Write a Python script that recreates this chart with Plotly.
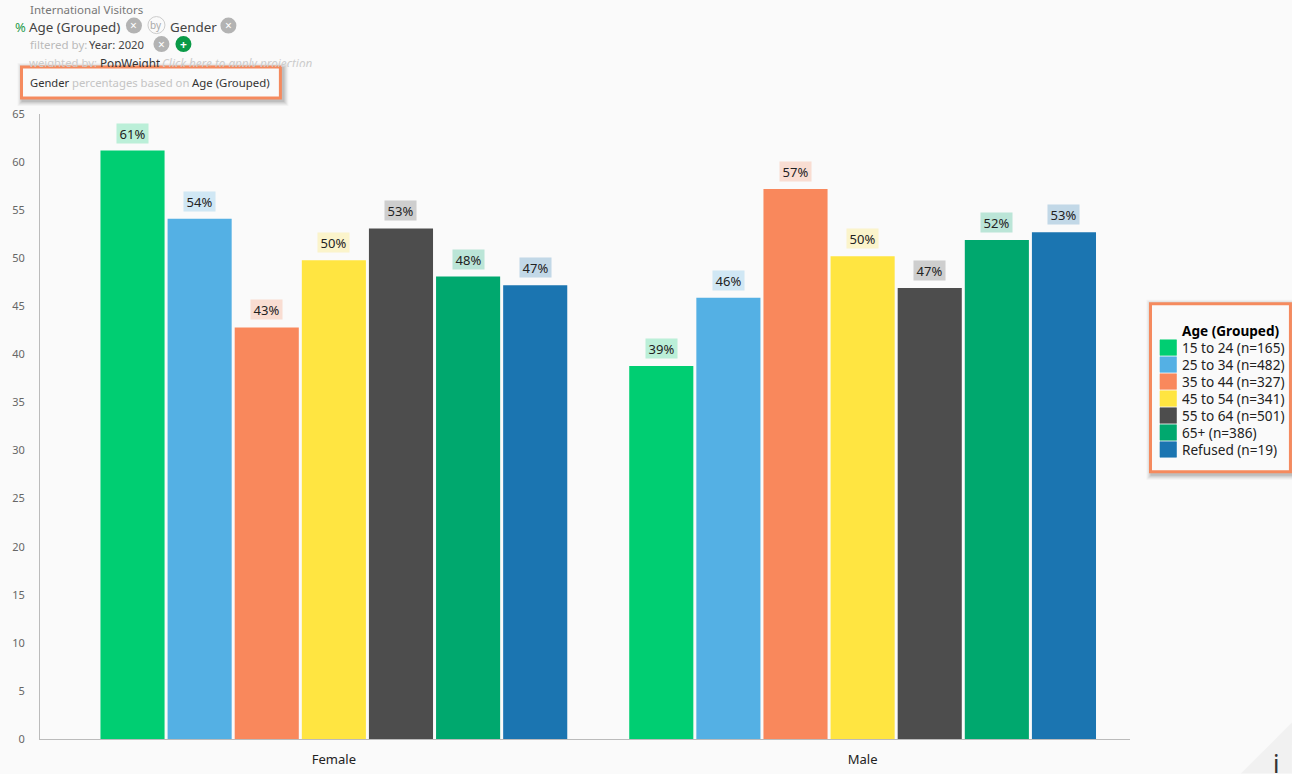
import plotly.graph_objects as go

# Survey results: share of each age group by gender
genders = ["Female", "Male"]
age_groups = ["15 to 24", "25 to 34", "35 to 44", "45 to 54", "55 to 64", "65+", "Refused"]
sample_sizes = [165, 482, 327, 341, 501, 386, 19]
female_pct = [61.2, 54.1, 42.8, 49.8, 53.1, 48.1, 47.2]
male_pct = [38.8, 45.9, 57.2, 50.2, 46.9, 51.9, 52.7]
series_colors = ["#00CE72", "#54B0E4", "#F9885C", "#FFE541", "#4D4D4D", "#00A86E", "#1B75B1"]
y_ticks = list(range(0, 70, 5))

W, H = 1292, 774
LEFT, RIGHT, TOP, BOTTOM = 39.5, 1130.0, 114.0, 739.5
BG = "#FAFAFA"
ORANGE = "#F58A5E"
FONT = "Noto Sans"
BAR_GAP = 0.1115
GROUP_GAP = 0.045


def px(x):
    return (x - LEFT) / (RIGHT - LEFT)


def py(y):
    return (BOTTOM - y) / (BOTTOM - TOP)


def rgba(hex_color, alpha):
    r, g, b = (int(hex_color[i:i + 2], 16) for i in (1, 3, 5))
    return f"rgba({r},{g},{b},{alpha})"


fig = go.Figure()
for j, (age, color) in enumerate(zip(age_groups, series_colors)):
    fig.add_bar(
        x=genders,
        y=[female_pct[j], male_pct[j]],
        name=age,
        marker=dict(color=color, line=dict(width=0)),
        showlegend=False,
    )

annotations = []
shapes = []


def label(x, y, text, size=12, color="#444444", **kw):
    anchor = kw.pop("xanchor", "left")
    nudge = 1.5 if anchor == "left" else 0
    annotations.append(dict(
        xref="paper", yref="paper", x=px(x - nudge), y=py(y), text=text, showarrow=False,
        xanchor=anchor, yanchor=kw.pop("yanchor", "middle"),
        borderpad=0, font=dict(family=FONT, size=size, color=color), **kw,
    ))


def rect(x0, y0, x1, y1, layer="above", **kw):
    shapes.append(dict(type="rect", xref="paper", yref="paper", layer=layer,
                       x0=px(x0), x1=px(x1), y0=py(y0), y1=py(y1), **kw))


def circle(cx, cy, r, **kw):
    shapes.append(dict(type="circle", xref="paper", yref="paper", layer="above",
                       x0=px(cx - r), x1=px(cx + r), y0=py(cy - r), y1=py(cy + r), **kw))


def framed_box(x0, y0, x1, y1):
    # Orange frame with a soft drop shadow built from stacked translucent layers
    for grow, alpha in ((6, 0.03), (5, 0.04), (4, 0.05), (3, 0.06), (2, 0.08)):
        rect(x0 - grow + 2, y0 - grow + 2, x1 + grow + 2, y1 + grow + 2,
             fillcolor=f"rgba(0,0,0,{alpha})", line=dict(width=0))
    rect(x0, y0, x1, y1, fillcolor=BG, line=dict(color=ORANGE, width=3))


# Value labels above every bar, tinted with the series colour
slot = (1 - BAR_GAP) / len(age_groups)
for i, values in enumerate((female_pct, male_pct)):
    for j, value in enumerate(values):
        annotations.append(dict(
            xref="x", yref="y", x=i + (j - (len(age_groups) - 1) / 2) * slot, y=value,
            yshift=7, yanchor="bottom", xanchor="center", showarrow=False,
            text=f"{value:.0f}%", width=31, height=19, borderpad=0,
            bgcolor=rgba(series_colors[j], 0.25),
            font=dict(family=FONT, size=13, color="#222222"),
        ))

# Query description block in the top-left corner
label(30, 9, "International Visitors", 11.5, "#777777")
label(15, 26.5, "%", 13, "#1E9A4B")
label(29, 26.5, "Age (Grouped)", 13.4, "#444444")
label(170, 26.5, "Gender", 13.4, "#444444")
circle(156, 25, 8.5, fillcolor="rgba(0,0,0,0)", line=dict(color="#CCCCCC", width=1))
label(156, 25, "by", 10, "#AAAAAA", xanchor="center")
for cx, cy in ((133.5, 25.5), (228, 25.5), (161, 44)):
    circle(cx, cy, 8, fillcolor="#B3B3B3", line=dict(width=0))
    label(cx, cy, "×", 12, "#FFFFFF", xanchor="center")
circle(183, 44, 8, fillcolor="#0A9A47", line=dict(width=0))
label(183, 44, "<b>+</b>", 12, "#FFFFFF", xanchor="center")
label(30, 44, "filtered by:", 11.5, "#BBBBBB")
label(89, 44, "Year: 2020", 11.3, "#444444")
for x, text, size, color in ((29, "weighted by:", 11.3, "#CCCCCC"), (100, "PopWeight", 11.7, "#333333"),
                             (162, "<i>Click here to apply projection</i>", 11.7, "#CCCCCC")):
    label(x, 54, text, size, color, yanchor="top", height=12, valign="top")

framed_box(21, 67, 280, 98)
label(30, 82, "Gender", 11.2, "#333333")
label(72, 82, "percentages based on", 11.3, "#C4C4C4")
label(192, 82, "Age (Grouped)", 11.4, "#333333")

# Legend panel: swatches and labels come from the series lists
framed_box(1150.5, 304, 1290.5, 472)
label(1183, 331, "<b>Age (Grouped)</b>", 13.6, "#000000")
for j, (age, n, color) in enumerate(zip(age_groups, sample_sizes, series_colors)):
    row_y = 348 + j * 17
    rect(1160, row_y - 8, 1176.5, row_y + 7.5, fillcolor=color,
         line=dict(color=rgba(color, 0.6), width=1))
    label(1183, row_y, f"{age} (n={n})", 13.6, "#222222")

# Info tab in the bottom-right corner
shapes.append(dict(
    type="path", xref="paper", yref="paper", layer="above", fillcolor="#F1F1F1", line=dict(width=0),
    path=f"M {px(1241)} {py(774)} L {px(1292)} {py(723)} L {px(1292)} {py(774)} Z",
))
label(1276, 764, "i", 25, "#333333", xanchor="center")

fig.update_layout(
    width=W, height=H,
    autosize=False,
    margin=dict(l=LEFT, r=W - RIGHT, t=TOP, b=H - BOTTOM, pad=0, autoexpand=False),
    paper_bgcolor=BG, plot_bgcolor=BG,
    barmode="group", bargap=BAR_GAP, bargroupgap=GROUP_GAP,
    showlegend=False,
    font=dict(family=FONT),
    annotations=annotations, shapes=shapes,
    xaxis=dict(
        type="category", categoryorder="array", categoryarray=genders,
        range=[(LEFT - 333.5) / 529, (RIGHT - 333.5) / 529],
        showgrid=False, zeroline=False, showline=True, linecolor="#BBBBBB", linewidth=1,
        ticks="", tickfont=dict(family=FONT, size=13, color="#222222"), ticklabelstandoff=8,
    ),
    yaxis=dict(
        range=[0, 65], tickvals=y_ticks, showgrid=False, zeroline=False,
        showline=True, linecolor="#BBBBBB", linewidth=1, ticks="",
        tickfont=dict(family=FONT, size=11, color="#666666"), ticklabelstandoff=12,
    ),
)

fig.write_html("out.html", config=dict(displayModeBar=False))
